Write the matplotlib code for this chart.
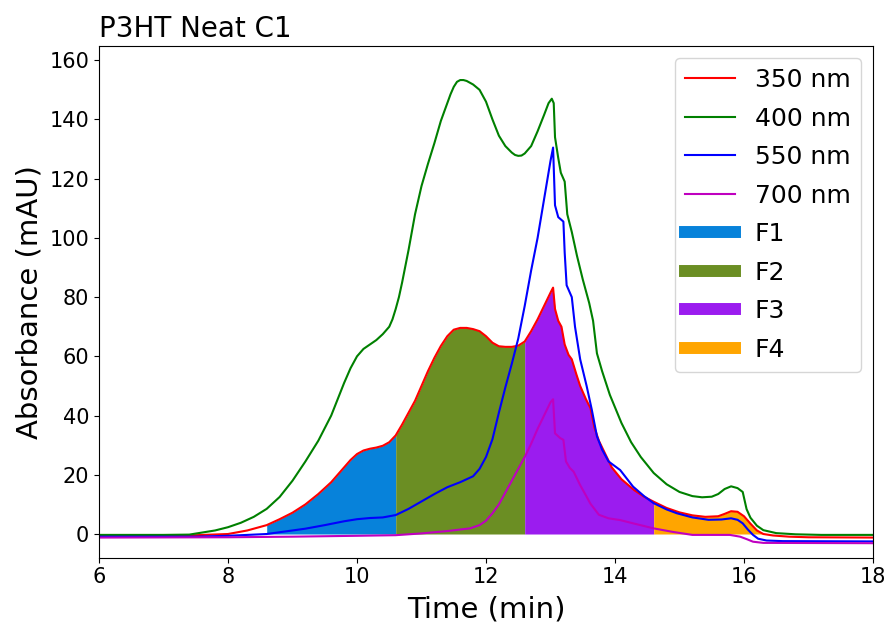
import numpy as np
import matplotlib
matplotlib.use("Agg")
import matplotlib.pyplot as plt
from matplotlib.lines import Line2D

# ---- data ----
t_350 = [6.0, 7.0, 7.5, 8.0, 8.3, 8.6, 8.8, 9.0, 9.2, 9.4, 9.6, 9.8, 9.9, 10.0, 10.1, 10.2,
         10.3, 10.4, 10.5, 10.6, 10.7, 10.8, 10.9, 11.0, 11.1, 11.2, 11.3, 11.4, 11.5, 11.6,
         11.7, 11.8, 11.9, 12.0, 12.1, 12.2, 12.3, 12.4, 12.5, 12.6, 12.7, 12.8, 12.9, 13.0,
         13.04, 13.07, 13.12, 13.17, 13.22, 13.28, 13.33, 13.4, 13.46, 13.55, 13.62, 13.68,
         13.75, 13.85, 13.95, 14.1, 14.3, 14.45, 14.6, 14.8, 15.0, 15.2, 15.4, 15.6, 15.7,
         15.8, 15.9, 16.0, 16.1, 16.2, 16.3, 16.45, 16.7, 17.0, 18.0]
a_350 = [-0.5, -0.5, -0.4, 0.0, 1.2, 3.0, 5.0, 7.2, 10.0, 13.5, 17.5, 22.5, 25.0, 27.0, 28.2, 28.8,
         29.2, 29.8, 31.0, 33.3, 37.0, 41.0, 45.0, 50.0, 55.0, 59.5, 63.5, 66.8, 69.0, 69.6,
         69.6, 69.2, 68.5, 66.8, 64.6, 63.4, 63.2, 63.2, 63.6, 65.0, 68.5, 72.5, 77.0, 81.5,
         83.2, 76.0, 72.0, 70.0, 64.0, 60.5, 59.0, 54.0, 50.0, 45.5, 42.5, 36.0,
         31.5, 27.0, 22.5, 18.5, 14.8, 12.6, 10.9, 8.8, 7.3, 6.3, 5.8, 6.0, 6.8,
         7.7, 7.5, 6.0, 3.5, 1.2, 0.0, -0.5, -0.9, -1.1, -1.2]

t_400 = [6.0, 7.0, 7.4, 7.6, 7.8, 8.0, 8.2, 8.4, 8.6, 8.8, 9.0, 9.2, 9.4, 9.6, 9.8, 9.9, 10.0,
         10.1, 10.2, 10.3, 10.4, 10.5, 10.55, 10.6, 10.65, 10.7, 10.8, 10.9, 11.0, 11.1, 11.2,
         11.3, 11.4, 11.45, 11.5, 11.55, 11.6, 11.65, 11.7, 11.8, 11.9, 12.0, 12.1, 12.2,
         12.3, 12.4, 12.45, 12.5, 12.55, 12.6, 12.7, 12.8,
         12.9, 12.97, 13.02, 13.05, 13.07, 13.12, 13.16, 13.22, 13.26, 13.33, 13.41, 13.5,
         13.6, 13.66, 13.72, 13.8, 13.92, 14.1, 14.25, 14.4, 14.6, 14.8, 15.0, 15.2, 15.35,
         15.5, 15.6, 15.7, 15.8, 15.9, 15.98, 16.04, 16.1, 16.2, 16.3, 16.5, 16.8, 17.2, 18.0]
a_400 = [-0.3, -0.3, -0.2, 0.5, 1.2, 2.3, 3.8, 5.8, 8.5, 12.5, 18.0, 24.5, 31.5, 40.0, 51.0, 56.0, 60.0,
         62.5, 64.0, 65.5, 67.5, 70.0, 72.5, 76.0, 80.0, 85.0, 96.0, 108.0, 117.5, 125.0, 132.0,
         139.5, 145.5, 148.5, 151.0, 152.7, 153.3, 153.3, 153.0, 151.8, 150.0, 146.0, 140.0, 134.5,
         131.0, 128.8, 128.0, 127.7, 127.8, 128.5, 131.0, 136.0,
         141.5, 145.5, 147.0, 145.5, 134.0, 127.0, 122.0, 119.0, 108.0, 102.0, 94.0, 86.0,
         78.0, 72.0, 61.0, 55.0, 47.0, 37.5, 31.0, 26.0, 20.6, 16.8, 14.2, 12.8, 12.4,
         12.6, 13.5, 15.2, 16.1, 15.5, 14.2, 8.4, 5.5, 2.8, 1.3, 0.3, -0.1, -0.3, -0.3]

t_550 = [6.0, 7.5, 8.0, 8.3, 8.6, 8.9, 9.2, 9.5, 9.8, 10.0, 10.2, 10.4, 10.6, 10.8, 11.0, 11.2,
         11.4, 11.6, 11.8, 11.9, 12.0, 12.1, 12.2, 12.3, 12.4, 12.5, 12.6, 12.7, 12.8, 12.9,
         13.0, 13.04, 13.07, 13.12, 13.2, 13.22, 13.25, 13.33, 13.38, 13.46, 13.56, 13.64,
         13.72, 13.8, 13.9, 14.08, 14.28, 14.45, 14.6, 14.8, 14.96, 15.2, 15.45, 15.65, 15.8,
         15.9, 15.98, 16.06, 16.14, 16.22, 16.35, 16.6, 18.0]
a_550 = [-0.9, -0.9, -0.6, -0.3, 0.0, 0.9, 1.8, 3.0, 4.3, 5.0, 5.4, 5.6, 6.4, 8.5, 11.0, 13.5,
         15.8, 17.5, 19.5, 22.0, 26.0, 32.0, 41.0, 49.5, 57.5, 66.0, 77.0, 89.0, 100.0, 113.0,
         126.0, 130.5, 111.0, 107.0, 105.5, 95.0, 84.0, 80.0, 70.0, 59.0, 50.0, 42.0,
         33.0, 28.5, 24.5, 21.6, 16.0, 12.8, 10.4, 8.3, 7.0, 5.6, 4.8, 4.9, 5.3,
         4.8, 3.6, 1.5, -0.3, -1.6, -2.2, -2.4, -2.5]

t_700 = [6.0, 8.0, 9.0, 10.0, 10.6, 11.0, 11.4, 11.75, 11.9, 12.0, 12.1, 12.2, 12.3, 12.4, 12.5,
         12.6, 12.7, 12.8, 12.9, 13.0, 13.04, 13.07, 13.15, 13.2, 13.24, 13.3, 13.36, 13.46,
         13.55, 13.62, 13.68, 13.75, 13.9, 14.08, 14.3, 14.6, 14.9, 15.2, 15.5, 15.78, 15.94,
         16.05, 16.14, 16.3, 18.0]
a_700 = [-1.2, -1.1, -0.9, -0.6, -0.4, 0.2, 1.0, 1.9, 3.0, 4.5, 7.0, 10.0, 14.0, 18.0, 22.0,
         26.0, 30.5, 35.5, 40.0, 44.5, 45.5, 34.0, 32.4, 31.8, 24.5, 22.3, 21.0, 16.5,
         13.0, 10.2, 8.5, 6.5, 5.3, 4.7, 3.5, 1.9, 0.7, -0.3, -0.3, -0.3, -0.9,
         -1.8, -2.6, -3.0, -3.1]

series_labels = ["350 nm", "400 nm", "550 nm", "700 nm"]
series_colors = ["r", "g", "b", "m"]

fraction_labels = ["F1", "F2", "F3", "F4"]
fraction_edges = [8.6, 10.6, 12.6, 14.6, 16.3]
fraction_colors = ["#0782DA", "#6B8E23", "#9B1CEF", "#FFA500"]

# ---- plot ----
fig = plt.figure(figsize=(8.88, 6.25), dpi=100)
ax = fig.add_axes([99 / 888, 1 - 557.7 / 625, (873 - 99) / 888, (557.7 - 45.7) / 625])

t_red = np.array(t_350)
a_red = np.array(a_350)
for lo, hi, c in zip(fraction_edges[:-1], fraction_edges[1:], fraction_colors):
    mask = (t_red >= lo) & (t_red <= hi)
    ax.fill_between(t_red, 0, a_red, where=mask, color=c, linewidth=0)

for t, a, lab, c in zip([t_350, t_400, t_550, t_700], [a_350, a_400, a_550, a_700],
                        series_labels, series_colors):
    ax.plot(t, a, color=c, lw=1.5, label=lab)

handles, labels = ax.get_legend_handles_labels()
for lab, c in zip(fraction_labels, fraction_colors):
    handles.append(Line2D([], [], color=c, lw=8.6))
    labels.append(lab)
ax.legend(handles, labels, loc="upper right", fontsize=18, labelspacing=0.58)

ax.set_xlim(6, 18)
ax.set_ylim(-8, 164.9)
ax.set_xticks([6, 8, 10, 12, 14, 16, 18])
ax.set_yticks([0, 20, 40, 60, 80, 100, 120, 140, 160])
ax.tick_params(labelsize=15)
ax.set_xlabel("Time (min)", fontsize=21, labelpad=6)
ax.set_ylabel("Absorbance (mAU)", fontsize=21)
ax.set_title("P3HT Neat C1", loc="left", fontsize=20)

fig.savefig("out.png", dpi=100)
